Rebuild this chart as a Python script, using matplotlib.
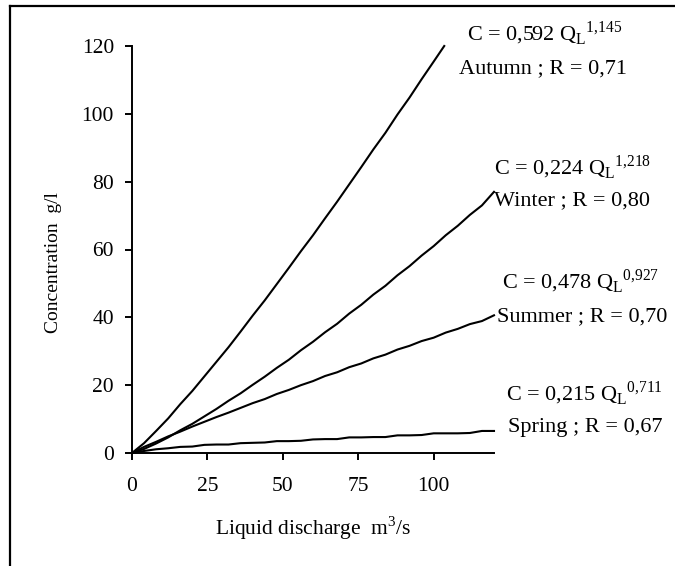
import matplotlib
matplotlib.use("Agg")
import matplotlib.pyplot as plt
from matplotlib.lines import Line2D

plt.rcParams['font.family'] = ['Liberation Serif', 'DejaVu Serif']
plt.rcParams['mathtext.fontset'] = 'custom'
plt.rcParams['mathtext.rm'] = 'Liberation Serif'

# values
autumn_q = [0, 4, 8, 12, 16, 20, 24, 28, 32, 36, 40, 44, 48, 52, 56, 60, 64, 68,
            72, 76, 80, 84, 88, 92, 96, 100, 103.5]
autumn_c = [0, 2.9, 6.5, 10.2, 14.4, 18.3, 22.6, 26.9, 31.2, 35.8, 40.5, 45.0, 49.8,
            54.6, 59.5, 64.2, 69.2, 74.1, 79.2, 84.3, 89.5, 94.4, 99.8, 104.8, 110.2, 115.4, 120.0]

season_q = [0, 4, 8, 12, 16, 20, 24, 28, 32, 36, 40, 44, 48, 52, 56, 60, 64, 68,
            72, 76, 80, 84, 88, 92, 96, 100, 104, 108, 112, 116, 120]
winter_c = [0, 1.2, 2.8, 4.6, 6.7, 8.6, 10.8, 13.0, 15.4, 17.6, 20.1, 22.5, 25.1, 27.5,
            30.3, 32.8, 35.6, 38.1, 41.1, 43.7, 46.7, 49.3, 52.4, 55.1, 58.2, 61.0, 64.2,
            67.0, 70.2, 73.0, 77.0]
summer_c = [0, 1.8, 3.3, 4.9, 6.3, 7.8, 9.2, 10.6, 11.9, 13.3, 14.7, 15.9, 17.4, 18.6,
            20.0, 21.2, 22.7, 23.8, 25.3, 26.4, 27.9, 29.0, 30.5, 31.6, 33.0, 34.0, 35.5,
            36.6, 38.0, 38.9, 40.6]
spring_c = [0, 0.6, 1.1, 1.4, 1.8, 1.9, 2.4, 2.5, 2.5, 2.9, 3.0, 3.1, 3.5, 3.5,
            3.6, 4.0, 4.1, 4.1, 4.6, 4.6, 4.7, 4.7, 5.2, 5.2, 5.3, 5.8, 5.8, 5.8, 5.9, 6.5, 6.5]

x_ticks = [0, 25, 50, 75, 100]
y_ticks = [0, 20, 40, 60, 80, 100, 120]

equations = [r"C = 0,592 Q$_\mathrm{L}$$^{\mathrm{1{,}145}}$",
             r"C = 0,224 Q$_\mathrm{L}$$^{\mathrm{1{,}218}}$",
             r"C = 0,478 Q$_\mathrm{L}$$^{\mathrm{0{,}927}}$",
             r"C = 0,215 Q$_\mathrm{L}$$^{\mathrm{0{,}711}}$"]
seasons = ["Autumn ; R = 0,71", "Winter ; R = 0,80", "Summer ; R = 0,70", "Spring ; R = 0,67"]

W, H = 675, 566
fig = plt.figure(figsize=(W / 100, H / 100), dpi=100)
ax = fig.add_axes([132 / W, 1 - 453 / H, 362 / W, 407 / H])

for q, c in [(autumn_q, autumn_c), (season_q, winter_c), (season_q, summer_c), (season_q, spring_c)]:
    ax.plot(q, c, color='black', lw=1.5, clip_on=False)

ax.set_xlim(0, 120)
ax.set_ylim(0, 120)
ax.set_xticks(x_ticks)
ax.set_yticks(y_ticks)
for s in ['top', 'right']:
    ax.spines[s].set_visible(False)
for s in ['left', 'bottom']:
    ax.spines[s].set_linewidth(1.4)
ax.tick_params(axis='both', direction='out', length=5, width=1.4, labelsize=15.5)
ax.tick_params(axis='x', pad=12)
ax.tick_params(axis='y', pad=8)

fig.text(313 / W, 1 - 535 / H, "Liquid discharge  m$^\\mathrm{3}$/s", ha='center', va='baseline', fontsize=15.5)
fig.text(54 / W, 1 - 263 / H, "Concentration  g/l", rotation=90, ha='center', va='center', fontsize=14)

# annotation text positions (pixel centre x, baseline y)
eq_pos = [(545, 40), (573, 174), (581, 288), (584, 400)]
lab_pos = [(543, 73), (572, 205), (582, 321), (585, 432)]
for eq, (x, y) in zip(equations, eq_pos):
    fig.text(x / W, 1 - y / H, eq, ha='center', va='baseline', fontsize=16)
for lab, (x, y) in zip(seasons, lab_pos):
    fig.text(x / W, 1 - y / H, lab, ha='center', va='baseline', fontsize=16)

# frame around the figure (left and top edges)
fig.add_artist(Line2D([10 / W, 10 / W], [0, 1 - 6 / H], color='black', lw=1.6))
fig.add_artist(Line2D([10 / W, 1], [1 - 6 / H, 1 - 6 / H], color='black', lw=1.6))

fig.savefig("out.png", dpi=100)
